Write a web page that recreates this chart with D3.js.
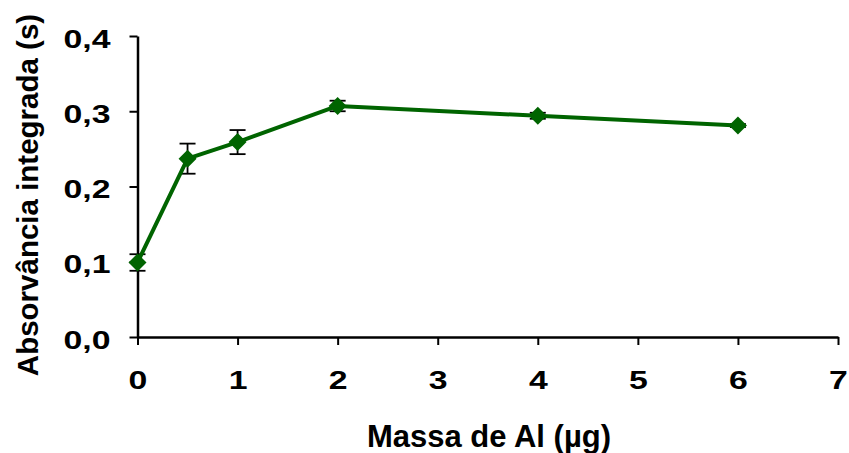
<!DOCTYPE html>
<html>
<head>
<meta charset="utf-8">
<script src="https://cdn.jsdelivr.net/npm/d3@7"></script>
<style>
  body { margin: 0; background: #fff; }
  svg { display: block; }
  text { font-family: "Liberation Sans", Arial, sans-serif; font-weight: bold; }
</style>
</head>
<body>
<div id="chart"></div>
<script>
// data
const massa = [0, 0.5, 1, 2, 4, 6]
const absorvancia = [0.099, 0.237, 0.259, 0.307, 0.294, 0.281]
const erro = [0.011, 0.020, 0.016, 0.007, 0.004, 0.002]
const xTicks = [0, 1, 2, 3, 4, 5, 6, 7]
const yTicks = [0, 0.1, 0.2, 0.3, 0.4]
const xTitle = 'Massa de Al (µg)'
const yTitle = 'Absorvância integrada (s)'

const width = 849, height = 453
const margin = { top: 36, left: 137.5, right: 11, bottom: 116 }
const graph_width = width - margin.left - margin.right
const graph_height = height - margin.top - margin.bottom
const green = '#006400'

const svg = d3.select('#chart').append('svg')
    .attr('width', width)
    .attr('height', height)

const g = svg.append('g')
    .attr('transform', 'translate(' + margin.left + ',' + margin.top + ')')

const xScale = d3.scaleLinear().domain([0, 7]).range([0, graph_width])
const yScale = d3.scaleLinear().domain([0, 0.4]).range([graph_height, 0])

const fmt = d => d3.format('.1f')(d).replace('.', ',')

// y axis
const yAxis = g.append('g')
    .call(d3.axisLeft(yScale).tickValues(yTicks).tickFormat(fmt).tickSize(8).tickSizeOuter(0).tickPadding(0))
yAxis.select('.domain').attr('stroke-width', 2.5)
yAxis.selectAll('.tick line').attr('stroke-width', 2)
yAxis.selectAll('.tick text')
    .attr('x', null)
    .attr('dy', null)
    .attr('dominant-baseline', 'central')
    .attr('transform', 'translate(-27,2) scale(1.3,1)')
    .style('font-size', '26px')
    .attr('fill', '#000')

// x axis
const xAxis = g.append('g')
    .attr('transform', 'translate(0,' + graph_height + ')')
    .call(d3.axisBottom(xScale).tickValues(xTicks).tickFormat(d3.format('d')).tickSize(8).tickSizeOuter(0).tickPadding(0))
xAxis.select('.domain').attr('stroke-width', 2.5)
xAxis.selectAll('.tick line').attr('stroke-width', 2)
xAxis.selectAll('.tick text')
    .attr('y', null)
    .attr('dy', null)
    .attr('transform', 'translate(0,52) scale(1.3,1)')
    .style('font-size', '26px')
    .attr('fill', '#000')

// axis titles
svg.append('text')
    .attr('x', 489)
    .attr('y', 447)
    .attr('text-anchor', 'middle')
    .style('font-size', '31px')
    .text(xTitle)

svg.append('text')
    .attr('transform', 'translate(38,195) rotate(-90)')
    .attr('text-anchor', 'middle')
    .style('font-size', '29.5px')
    .text(yTitle)

// error bars
const points = massa.map((m, i) => ({ x: m, y: absorvancia[i], e: erro[i] }))
const cap = 8

const eb = g.append('g').attr('stroke', '#000').attr('stroke-width', 1.8)
points.forEach(p => {
    const cx = xScale(p.x), top = yScale(p.y + p.e), bot = yScale(p.y - p.e)
    eb.append('line').attr('x1', cx).attr('x2', cx).attr('y1', top).attr('y2', bot)
    eb.append('line').attr('x1', cx - cap).attr('x2', cx + cap).attr('y1', top).attr('y2', top)
    eb.append('line').attr('x1', cx - cap).attr('x2', cx + cap).attr('y1', bot).attr('y2', bot)
})

// line
const line = d3.line().x(d => xScale(d.x)).y(d => yScale(d.y))
g.append('path')
    .datum(points)
    .attr('fill', 'none')
    .attr('stroke', green)
    .attr('stroke-width', 4)
    .attr('stroke-linejoin', 'round')
    .attr('d', line)

// diamond markers
g.selectAll('.marker')
    .data(points)
    .enter().append('path')
    .attr('class', 'marker')
    .attr('fill', green)
    .attr('transform', d => 'translate(' + xScale(d.x) + ',' + yScale(d.y) + ')')
    .attr('d', 'M0,-9L9,0L0,9L-9,0Z')
</script>
</body>
</html>
